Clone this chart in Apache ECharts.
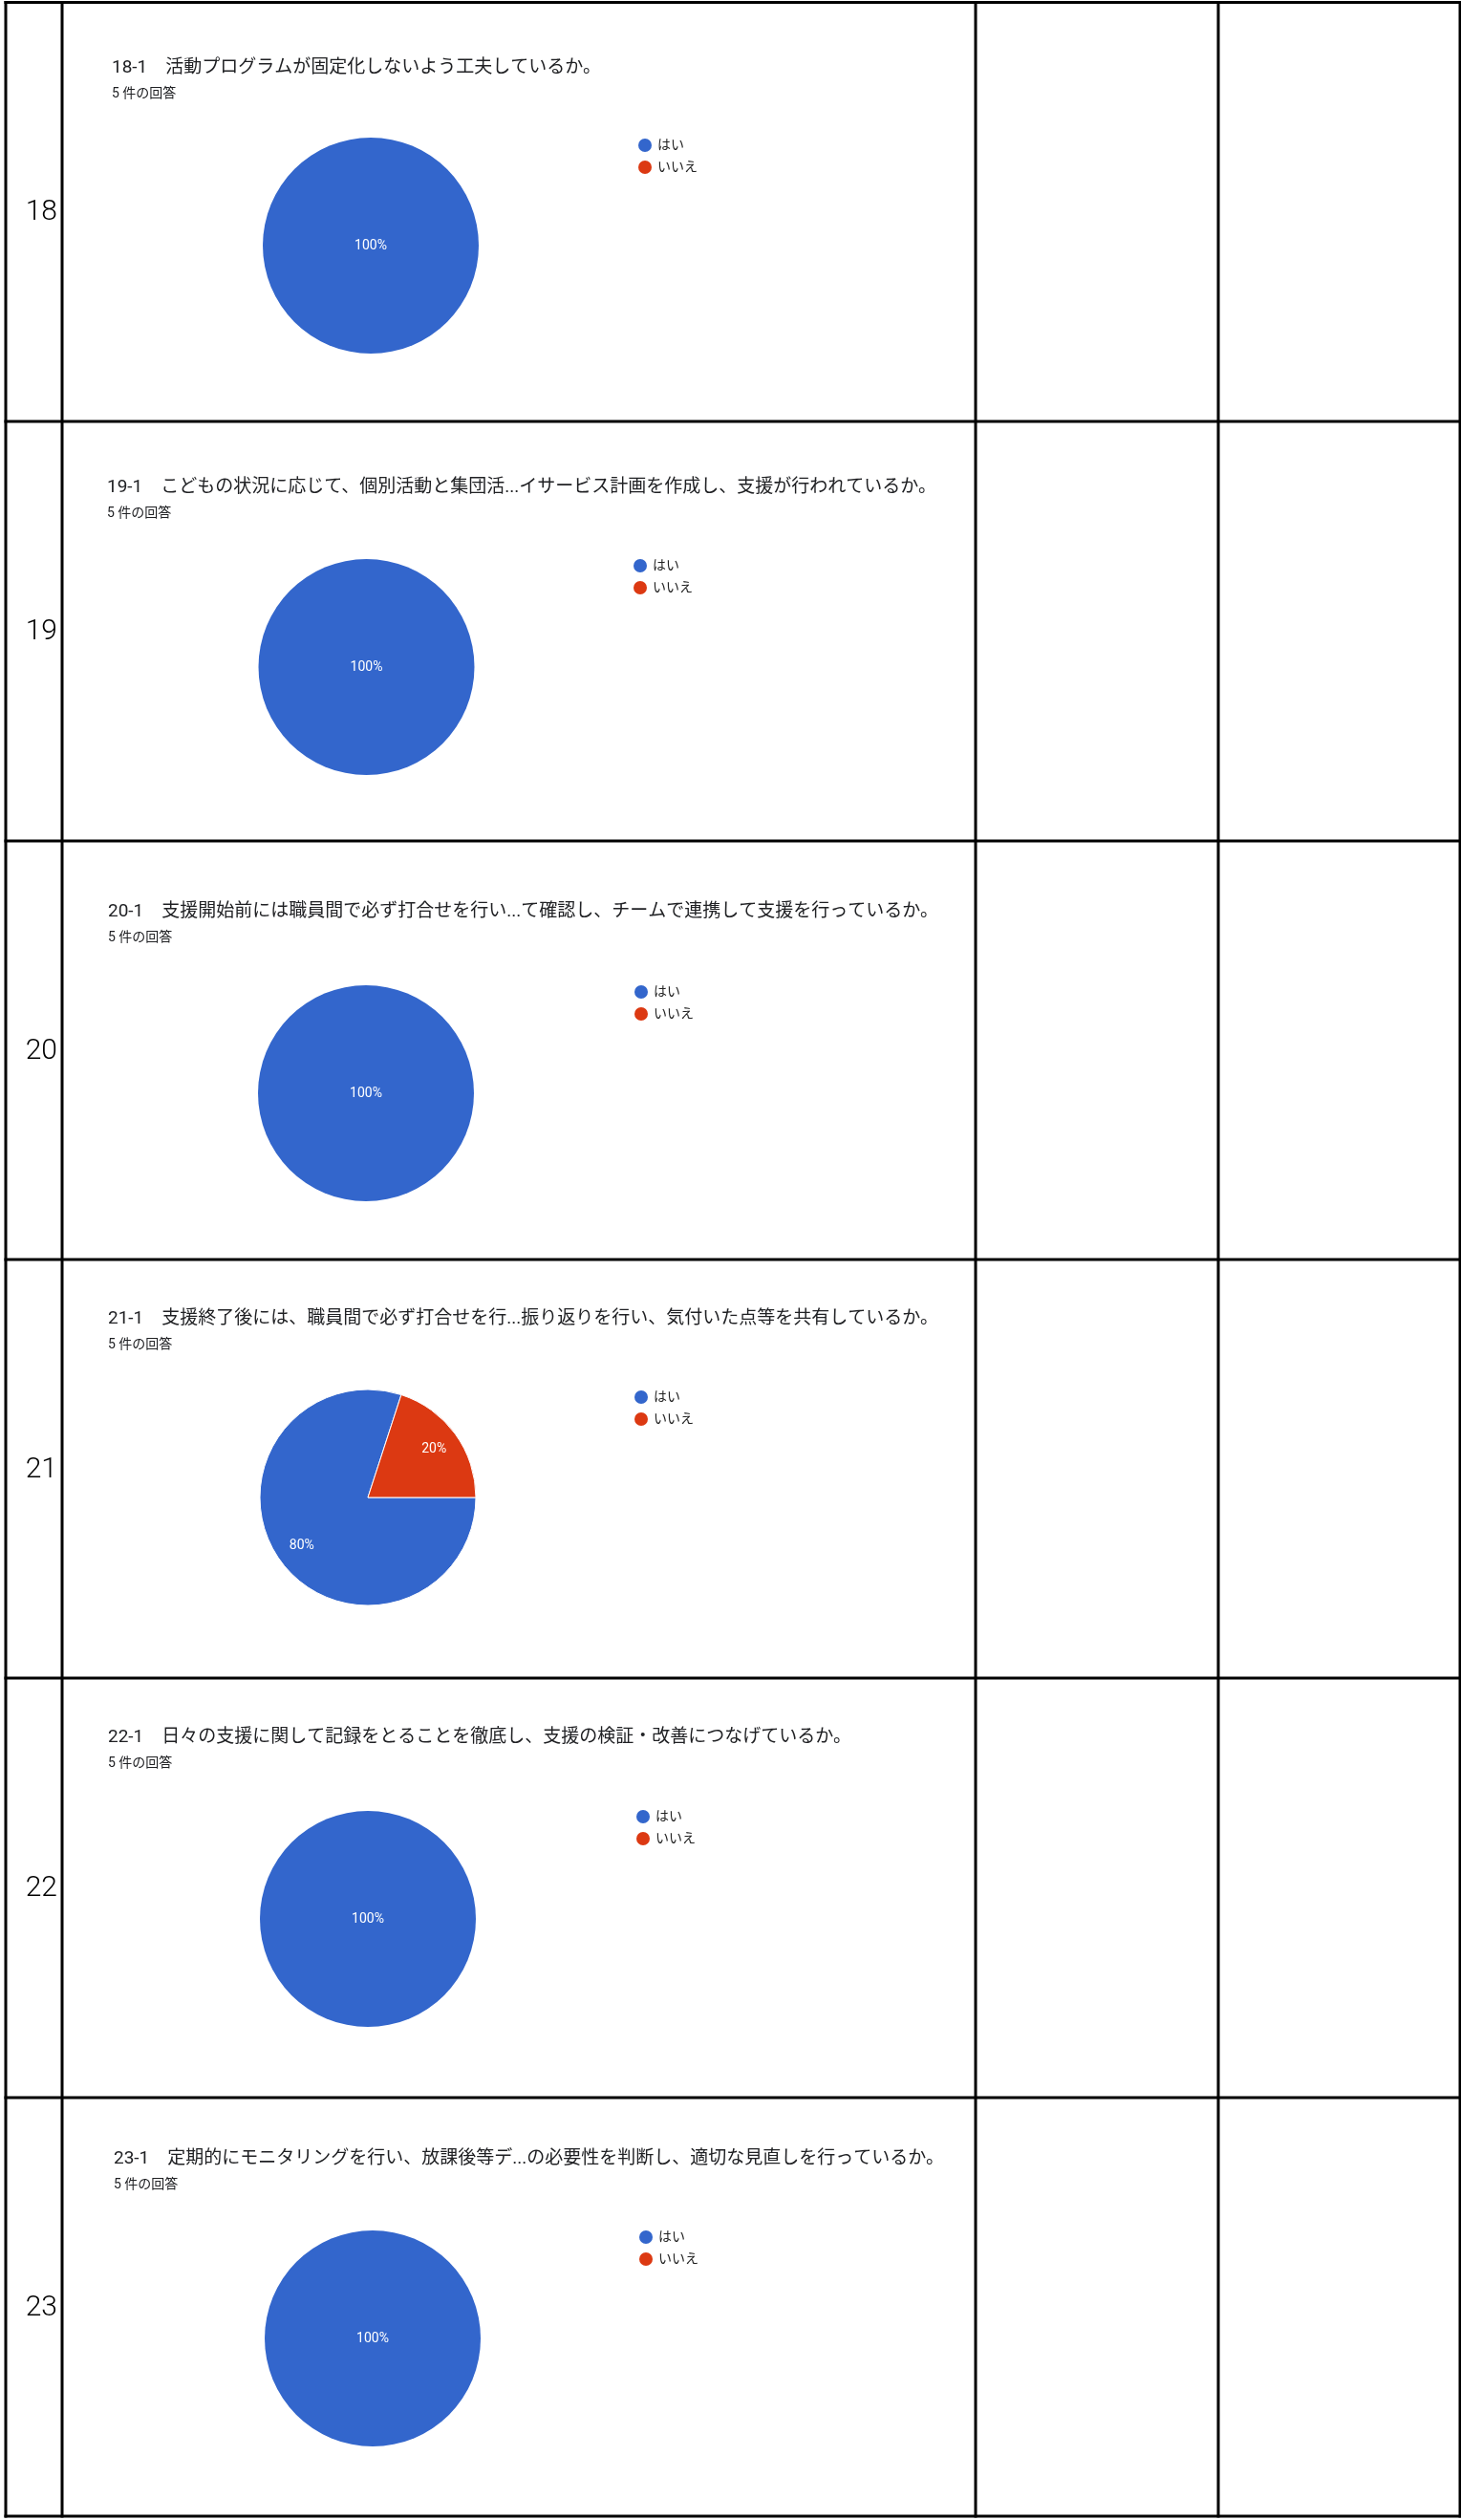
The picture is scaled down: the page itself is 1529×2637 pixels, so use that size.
<!DOCTYPE html>
<html>
<head>
<meta charset="utf-8">
<script src="https://cdn.jsdelivr.net/npm/echarts@6/dist/echarts.min.js"></script>
<style>
  html, body { margin: 0; padding: 0; background: #fff; }
  #chart { width: 1529px; height: 2637px; }
</style>
</head>
<body>
<div id="chart"></div>
<script>
// ---- data ----
const rowNumbers = [18, 19, 20, 21, 22, 23];
const questionTitles = [
  '18-1\u3000活動プログラムが固定化しないよう工夫しているか。',
  '19-1\u3000こどもの状況に応じて、個別活動と集団活...イサービス計画を作成し、支援が行われているか。',
  '20-1\u3000支援開始前には職員間で必ず打合せを行い...て確認し、チームで連携して支援を行っているか。',
  '21-1\u3000支援終了後には、職員間で必ず打合せを行...振り返りを行い、気付いた点等を共有しているか。',
  '22-1\u3000日々の支援に関して記録をとることを徹底し、支援の検証・改善につなげているか。',
  '23-1\u3000定期的にモニタリングを行い、放課後等デ...の必要性を判断し、適切な見直しを行っているか。'
];
const responseCounts = [5, 5, 5, 5, 5, 5];
const answerCategories = ['はい', 'いいえ'];
const yesValues = [5, 5, 5, 4, 5, 5];
const noValues  = [0, 0, 0, 1, 0, 0];

// ---- layout (positions only) ----
const rowTops   = [2.5, 441, 880, 1318, 1756, 2195];
const tableBottom = 2633;
const colLines  = [6, 65, 1021, 1275, 1528];
const titleX    = [117, 112, 113, 113, 113, 119];
const titleCY   = [71, 510, 954, 1380, 1818, 2259];
const pieCX     = [388, 383.5, 383, 385, 385, 390];
const pieCY     = [257, 698, 1144, 1567, 2008, 2447];
const legendX   = [675, 670, 671, 671, 673, 676];
const legendCY  = [152, 592, 1038, 1462, 1901, 2341];
const pieR = 113;

const FONT = "Roboto, 'Noto Sans CJK JP', sans-serif";
const colors = ['#3366CC', '#DC3912'];

const chart = echarts.init(document.getElementById('chart'), null, { renderer: 'canvas' });

const titles = [], legends = [], series = [], graphics = [];

// table lines
const allH = rowTops.concat([tableBottom]);
allH.forEach(y => graphics.push({
  type: 'line', shape: { x1: 4.5, y1: y, x2: 1529, y2: y },
  style: { stroke: '#000', lineWidth: 3 }, silent: true
}));
colLines.forEach(x => graphics.push({
  type: 'line', shape: { x1: x, y1: rowTops[0] - 1.5, x2: x, y2: tableBottom + 1.5 },
  style: { stroke: '#000', lineWidth: 3 }, silent: true
}));

rowNumbers.forEach((num, i) => {
  const top = rowTops[i];
  const bottom = i + 1 < rowTops.length ? rowTops[i + 1] : tableBottom;
  // row number
  graphics.push({
    type: 'text', x: 60, y: (top + bottom) / 2 + 1,
    style: { text: String(num), font: '300 30px Roboto, sans-serif', fill: '#000',
             textAlign: 'right', textVerticalAlign: 'middle' }, silent: true
  });
  // question title + response count
  titles.push({
    text: questionTitles[i],
    subtext: responseCounts[i] + ' 件の回答',
    left: titleX[i], top: titleCY[i] - 11, padding: 0, itemGap: 8,
    textStyle: { fontFamily: FONT, fontSize: 19, fontWeight: 'normal', color: '#202124', lineHeight: 22 },
    subtextStyle: { fontFamily: FONT, fontSize: 14, color: '#202124', lineHeight: 16 }
  });
  // legend
  legends.push({
    orient: 'vertical', left: legendX[i] - 7, top: legendCY[i] - 8, padding: 0,
    itemWidth: 14, itemHeight: 14, itemGap: 7, icon: 'circle',
    data: answerCategories.slice(),
    textStyle: { fontFamily: FONT, fontSize: 14, color: '#222', lineHeight: 16, padding: [0, 0, 0, 1] },
    selectedMode: false
  });

  const vals = [yesValues[i], noValues[i]];
  const total = vals[0] + vals[1];
  const full = vals[0] === 0 || vals[1] === 0;
  const data = answerCategories.map((name, k) => ({
    name, value: vals[k], itemStyle: { color: colors[k] }
  }));
  const fmt = p => p.value > 0 ? Math.round(p.value / total * 100) + '%' : '';

  series.push({
    type: 'pie', center: [pieCX[i], pieCY[i]], radius: [0, pieR],
    startAngle: 0, clockwise: true, avoidLabelOverlap: false,
    itemStyle: { borderColor: '#fff', borderWidth: full ? 0 : 1 },
    label: full ? { show: true, position: 'center', formatter: fmt, color: '#fff',
                    fontFamily: FONT, fontSize: 14 } : { show: false },
    labelLine: { show: false },
    emphasis: { disabled: true },
    data
  });
  if (!full) {
    // transparent ring used only to place slice labels at ~73% of the radius
    series.push({
      type: 'pie', center: [pieCX[i], pieCY[i]], radius: [52, pieR],
      startAngle: 0, clockwise: true, silent: true, avoidLabelOverlap: false,
      itemStyle: { color: 'rgba(0,0,0,0)', borderWidth: 0 },
      label: { show: true, position: 'inside', formatter: fmt, color: '#fff',
               fontFamily: FONT, fontSize: 14 },
      labelLine: { show: false },
      emphasis: { disabled: true },
      data: answerCategories.map((name, k) => ({ name, value: vals[k] }))
    });
  }
});

chart.setOption({
  animation: false,
  backgroundColor: '#fff',
  title: titles,
  legend: legends,
  series,
  graphic: { elements: graphics }
});
</script>
</body>
</html>
